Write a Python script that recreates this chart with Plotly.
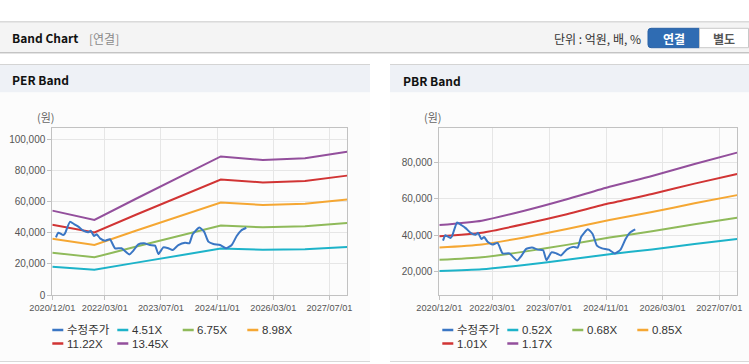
import plotly.graph_objects as go

W, H = 749, 364

# ---------------- data ----------------
tick_dates = ["2020-12-01", "2022-03-01", "2023-07-01", "2024-11-01", "2026-03-01", "2027-07-01"]
tick_labels = ["2020/12/01", "2022/03/01", "2023/07/01", "2024/11/01", "2026/03/01", "2027/07/01"]

band_dates = ["2020-12-01", "2021-12-01", "2022-12-01", "2023-12-01",
              "2024-12-01", "2025-12-01", "2026-12-01", "2027-12-01"]

price_dates = ["2021-01-02", "2021-01-22", "2021-03-06", "2021-03-21", "2021-05-03", "2021-06-07",
               "2021-07-15", "2021-08-27", "2021-10-09", "2021-10-30", "2021-11-27", "2021-12-21",
               "2022-01-19", "2022-03-03", "2022-04-15", "2022-05-29", "2022-07-25", "2022-09-30",
               "2022-11-04", "2022-12-17", "2023-02-04", "2023-03-28", "2023-05-11", "2023-06-09",
               "2023-07-22", "2023-09-03", "2023-10-11", "2023-11-29", "2024-01-26", "2024-03-03",
               "2024-04-01", "2024-05-29", "2024-07-09", "2024-08-15", "2024-09-28", "2024-11-25",
               "2025-01-16", "2025-03-06", "2025-04-18", "2025-05-27", "2025-07-10"]
price_values = [37050, 40000, 38500, 39600, 47000, 45600,
                43900, 41300, 40300, 41300, 37900, 39000,
                36400, 34900, 35800, 30000, 30000, 26100,
                28500, 32500, 33200, 32100, 31700, 26300,
                30600, 30000, 28900, 32100, 33600, 33200,
                39000, 43300, 40700, 34300, 32800, 32100,
                30000, 32100, 37900, 41500, 43200]

per_names = ["4.51X", "6.75X", "8.98X", "11.22X", "13.45X"]
per_451 = [18200, 16200, 20800, 25300, 29800, 29100, 29400, 30800]
per_675 = [27200, 24200, 31100, 37900, 44700, 43500, 44100, 46200]
per_898 = [36200, 32200, 41400, 50400, 59400, 57900, 58600, 61400]
per_1122 = [45200, 40200, 51700, 63000, 74200, 72300, 73200, 76700]
per_1345 = [54200, 48200, 62000, 75500, 89000, 86700, 87800, 92000]

pbr_names = ["0.52X", "0.68X", "0.85X", "1.01X", "1.17X"]
pbr_052 = [20300, 21300, 23700, 26500, 29600, 32200, 35200, 37900]
pbr_068 = [26500, 27900, 31000, 34700, 38700, 42200, 46000, 49600]
pbr_085 = [33200, 34900, 38800, 43400, 48400, 52700, 57500, 62000]
pbr_101 = [39400, 41400, 46100, 51500, 57500, 62600, 68300, 73600]
pbr_117 = [45600, 48000, 53400, 59700, 66600, 72500, 79100, 85300]

per_y_ticks = [0, 20000, 40000, 60000, 80000, 100000]
pbr_y_ticks = [20000, 40000, 60000, 80000]

price_name = "수정주가"
colors = ["#3a76c4", "#1db3c9", "#8fba5a", "#f5a733", "#d13434", "#934f9c"]

# ---------------- helpers ----------------
def px(x):
    return x / W

def py(y):
    return 1 - y / H

shapes = []
annotations = []

def rect(x0, y0, x1, y1, fill, line=None, lw=0, layer="below"):
    shapes.append(dict(type="rect", xref="paper", yref="paper",
                       x0=px(x0), x1=px(x1), y0=py(y1), y1=py(y0),
                       fillcolor=fill, line=dict(color=line or fill, width=lw), layer=layer))

def hline(x0, x1, y, color, w=1, layer="below"):
    shapes.append(dict(type="line", xref="paper", yref="paper",
                       x0=px(x0), x1=px(x1), y0=py(y), y1=py(y),
                       line=dict(color=color, width=w), layer=layer))

def text(x, y, s, size=12, color="#222", xanchor="left", family="Noto Sans CJK KR", bold=False):
    if bold:
        s = "<b>" + s + "</b>"
    annotations.append(dict(xref="paper", yref="paper", x=px(x), y=py(y), text=s,
                            showarrow=False, xanchor=xanchor, yanchor="middle",
                            borderpad=0, font=dict(size=size, color=color, family=family)))

# ---------------- page chrome ----------------
hline(0, W, 22, "#b4b4b4", 1)
rect(0, 22.5, W, 52, "#f4f4f4")
hline(0, W, 52.5, "#c4c4c4", 1)
hline(0, W, 53.5, "#e4e4e4", 1)

for (x0, x1) in [(0, 370), (390, W)]:
    hline(x0, x1, 64.5, "#d4d4d4", 1)
    rect(x0, 65, x1, 92.5, "#eef1f6")
    rect(x0, 92.5, x1, 361, "#fcfcfc")
    hline(x0, x1, 361.5, "#d8d8d8", 1)

text(11, 38, "Band Chart", 12, "#111", bold=True)
text(88, 38.5, "[연결]", 12, "#8a8a8a")
text(641.5, 38.5, "단위 : 억원, 배, %", 12, "#333", xanchor="right")

# buttons
x0b, x1b, y0b, y1b, r = 648, 699.5, 28.3, 47.7, 3
path = (f"M {px(x0b + r)},{py(y0b)} L {px(x1b)},{py(y0b)} L {px(x1b)},{py(y1b)} "
        f"L {px(x0b + r)},{py(y1b)} Q {px(x0b)},{py(y1b)} {px(x0b)},{py(y1b - r)} "
        f"L {px(x0b)},{py(y0b + r)} Q {px(x0b)},{py(y0b)} {px(x0b + r)},{py(y0b)} Z")
shapes.append(dict(type="path", xref="paper", yref="paper", path=path,
                   fillcolor="#2f6cb3", line=dict(color="#2a62a6", width=1), layer="below"))
rect(699.5, 28.3, 748.5, 47.7, "#ffffff", "#c8c8c8", 1)
text(673.7, 38.3, "연결", 12, "#ffffff", xanchor="center", bold=True)
text(723.5, 38.3, "별도", 12, "#555555", xanchor="center", bold=True)

text(11, 79.5, "PER Band", 12, "#111", bold=True)
text(401.5, 80.5, "PBR Band", 12, "#111", bold=True)

text(36, 117.5, "(원)", 11, "#666")
text(423, 117.5, "(원)", 11, "#666")

# ---------------- traces ----------------
fig = go.Figure()

per_series = [per_451, per_675, per_898, per_1122, per_1345]
pbr_series = [pbr_052, pbr_068, pbr_085, pbr_101, pbr_117]

for name, vals, c in zip(per_names, per_series, colors[1:]):
    fig.add_trace(go.Scatter(x=band_dates, y=vals, name=name, mode="lines",
                             line=dict(color=c, width=2), xaxis="x", yaxis="y",
                             showlegend=False))
fig.add_trace(go.Scatter(x=price_dates, y=price_values, name=price_name, mode="lines",
                         line=dict(color=colors[0], width=2, shape="spline", smoothing=0.5),
                         xaxis="x", yaxis="y", showlegend=False))

for name, vals, c in zip(pbr_names, pbr_series, colors[1:]):
    fig.add_trace(go.Scatter(x=band_dates, y=vals, name=name, mode="lines",
                             line=dict(color=c, width=2, shape="spline", smoothing=0.6),
                             xaxis="x2", yaxis="y2", showlegend=False))
fig.add_trace(go.Scatter(x=price_dates, y=price_values, name=price_name, mode="lines",
                         line=dict(color=colors[0], width=2, shape="spline", smoothing=0.5),
                         xaxis="x2", yaxis="y2", showlegend=False))

# ---------------- manual legends ----------------
def legend(items, xs, ys):
    for (name, c), x, y in zip(items, xs, ys):
        shapes.append(dict(type="line", xref="paper", yref="paper",
                           x0=px(x), x1=px(x + 11), y0=py(y), y1=py(y),
                           line=dict(color=c, width=2.5), layer="above"))
        text(x + 13.5, y, name, 11.5, "#333", family="Liberation Sans, Noto Sans CJK KR")

per_items = [(price_name, colors[0])] + list(zip(per_names, colors[1:]))
pbr_items = [(price_name, colors[0])] + list(zip(pbr_names, colors[1:]))
legend(per_items, [52.3, 117.3, 182.7, 247.3, 52.3, 117.3], [330, 330, 330, 330, 343.5, 343.5])
legend(pbr_items, [442.3, 507.3, 572.3, 637.3, 442.3, 507.3], [330, 330, 330, 330, 343.5, 343.5])

# ---------------- axes ----------------
axis_common = dict(showgrid=True, gridcolor="#e6e6e6", gridwidth=1,
                   showline=True, linecolor="#c2c2c2", linewidth=1, mirror=True,
                   ticks="outside", ticklen=4, tickcolor="#c2c2c2",
                   zeroline=False, fixedrange=True, automargin=False)

def xaxis(domain, anchor):
    return dict(axis_common, type="date", domain=domain, anchor=anchor,
                range=["2020-12-01", "2027-12-03"], tickangle=0,
                tickfont=dict(family="Liberation Sans, Arial", size=9.2, color="#555"),
                tickmode="array", tickvals=tick_dates, ticktext=tick_labels)

def yaxis(domain, anchor, rng, ticks):
    return dict(axis_common, domain=domain, anchor=anchor, range=rng,
                tickfont=dict(family="Liberation Sans, Arial", size=10, color="#555"),
                tickmode="array", tickvals=ticks, ticktext=[f"{v:,}" for v in ticks])

ydom = [py(295), py(128.3)]
fig.update_layout(
    width=W, height=H, autosize=False,
    margin=dict(l=0, r=0, t=0, b=0, pad=0, autoexpand=False),
    paper_bgcolor="#ffffff", plot_bgcolor="#ffffff",
    showlegend=False,
    xaxis=xaxis([px(52.3), px(347.3)], "y"),
    yaxis=yaxis(ydom, "x", [0, 107100], per_y_ticks),
    xaxis2=xaxis([px(439.3), px(737.3)], "y2"),
    yaxis2=yaxis(ydom, "x2", [7200, 98660], pbr_y_ticks),
    shapes=shapes,
    annotations=annotations,
)

fig.write_html("out.html", config={"displayModeBar": False},
               post_script="document.body.style.margin='0';document.body.style.padding='0';document.body.style.overflow='hidden';")
